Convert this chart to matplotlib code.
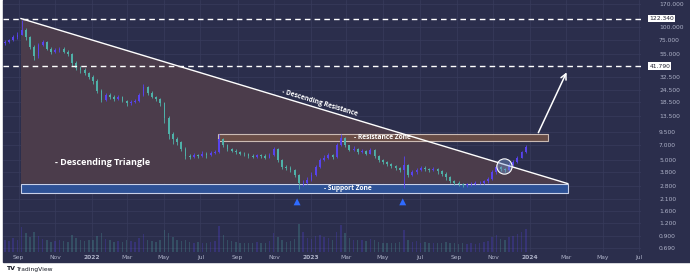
import pandas as pd
import numpy as np
import matplotlib.pyplot as plt
import matplotlib.dates as mdates
from matplotlib.patches import Rectangle, Polygon

# weekly candles
weeks = pd.date_range("2021-08-09", periods=125, freq="7D")
first_open = 70
closes = [72, 75, 80, 85, 95, 80, 65, 52, 68, 72,
          62, 58, 60, 62, 58, 55, 45, 40, 38, 36,
          33, 30, 24, 19.5, 22, 21, 20, 21, 19, 18,
          18.5, 19, 22, 26, 23, 21, 20, 18, 13, 9,
          8, 7.5, 6.5, 5.5, 5.4, 5.6, 5.5, 5.8, 5.6, 5.9,
          6.0, 8.0, 7.0, 6.4, 6.2, 6.0, 5.8, 5.7, 5.5, 5.4,
          5.6, 5.5, 5.3, 5.6, 6.5, 5.0, 4.3, 4.2, 4.0, 3.6,
          3.0, 3.0, 3.2, 3.6, 4.3, 5.0, 5.3, 5.6, 5.4, 7.0,
          8.2, 7.0, 6.3, 6.5, 6.0, 6.2, 5.8, 6.3, 5.5, 5.0,
          4.8, 4.6, 4.4, 4.2, 4.0, 4.5, 3.6, 3.8, 4.0, 4.2,
          4.1, 4.0, 4.1, 3.9, 3.7, 3.4, 3.1, 3.0, 2.9, 2.85,
          2.9, 2.95, 3.0, 3.0, 3.1, 3.3, 3.8, 4.3, 4.1, 4.0,
          4.5, 4.8, 5.3, 6.0, 6.8]
highs = [76, 78, 84, 90, 118, 98, 82, 67, 70, 76,
         74, 64, 63, 65, 64, 60, 56, 47, 42, 40,
         37, 34, 31, 25, 23, 23, 22, 22, 21.5, 19.5,
         19.5, 20, 23, 28, 26.5, 24, 21.5, 20.5, 18.5, 13.5,
         9.5, 8.4, 7.8, 6.7, 5.8, 5.9, 5.8, 6.1, 6.0, 6.2,
         6.3, 9.0, 8.3, 7.2, 6.6, 6.4, 6.2, 6.0, 5.9, 5.7,
         5.8, 5.8, 5.7, 5.9, 6.8, 6.6, 5.1, 4.5, 4.4, 4.1,
         3.7, 3.2, 3.4, 3.8, 4.5, 5.2, 5.6, 5.9, 5.8, 7.4,
         9.0, 8.4, 7.1, 6.9, 6.6, 6.5, 6.3, 6.6, 6.4, 5.6,
         5.1, 4.9, 4.7, 4.5, 4.3, 5.5, 4.6, 4.0, 4.2, 4.4,
         4.4, 4.2, 4.3, 4.2, 4.0, 3.8, 3.5, 3.2, 3.1, 3.0,
         3.0, 3.05, 3.1, 3.1, 3.2, 3.4, 4.0, 4.5, 4.4, 4.2,
         4.7, 5.0, 5.5, 6.2, 7.0]
lows = [68, 70, 73, 78, 84, 76, 62, 48, 50, 66,
        60, 55, 56, 58, 56, 53, 42, 38, 36, 34,
        31, 28, 23, 18.5, 19, 20, 19, 19.5, 18.5, 17,
        17.5, 18, 18.5, 21.5, 22, 20.5, 19, 17, 11.5, 8,
        7.2, 7, 6.1, 5.1, 5.1, 5.2, 5.2, 5.4, 5.3, 5.5,
        5.7, 5.9, 6.8, 6.2, 6.0, 5.8, 5.6, 5.5, 5.3, 5.2,
        5.3, 5.3, 5.1, 5.2, 5.5, 4.8, 4.1, 4.0, 3.8, 3.4,
        2.6, 2.8, 2.9, 3.1, 3.5, 4.2, 4.9, 5.1, 5.1, 5.3,
        6.9, 6.8, 6.1, 6.2, 5.8, 5.9, 5.6, 5.7, 5.3, 4.8,
        4.6, 4.4, 4.2, 4.0, 3.8, 2.7, 3.4, 3.5, 3.7, 3.9,
        3.9, 3.8, 3.9, 3.7, 3.5, 3.2, 3.0, 2.85, 2.8, 2.75,
        2.75, 2.8, 2.85, 2.9, 2.9, 3.0, 3.2, 3.7, 3.9, 3.8,
        3.9, 4.4, 4.7, 5.2, 5.9]
volumes = [1.6, 1.4, 1.8, 1.5, 3.2, 2.4, 1.9, 2.6, 2.0, 1.7,
           1.5, 1.3, 1.4, 1.6, 1.4, 1.3, 2.2, 1.8, 1.5, 1.4,
           1.6, 1.5, 2.1, 2.4, 1.7, 1.5, 1.3, 1.4, 1.3, 1.5,
           1.4, 1.3, 1.8, 2.3, 1.6, 1.4, 1.3, 1.5, 2.8, 2.5,
           1.9, 1.5, 1.4, 1.6, 1.3, 1.2, 1.3, 1.2, 1.1, 1.3,
           1.4, 3.4, 2.2, 1.6, 1.4, 1.3, 1.2, 1.2, 1.1, 1.1,
           1.3, 1.2, 1.1, 1.4, 2.4, 1.9, 1.6, 1.3, 1.4, 1.7,
           3.6, 2.6, 1.8, 1.7, 2.0, 2.2, 1.9, 1.8, 1.6, 2.6,
           3.5, 2.4, 1.8, 1.6, 1.5, 1.6, 1.4, 1.7, 1.5, 1.3,
           1.2, 1.2, 1.1, 1.2, 1.3, 2.8, 1.6, 1.3, 1.4, 1.2,
           1.3, 1.2, 1.1, 1.2, 1.1, 1.3, 1.2, 1.1, 1.0, 1.1,
           1.0, 1.1, 1.0, 1.2, 1.3, 1.4, 1.9, 2.2, 1.7, 1.5,
           1.9, 2.1, 2.3, 2.6, 2.9]

price_ticks = [170, 100, 75, 55, 32.5, 24.5, 18.5, 13.5, 9.5, 7.0, 5.0,
               3.8, 2.8, 2.1, 1.6, 1.2, 0.9, 0.69]
marked_levels = [122.34, 41.79]
month_ticks = pd.date_range("2021-09-01", "2024-07-01", freq="2MS")
month_labels = [d.strftime("%Y") if d.month == 1 else d.strftime("%b") for d in month_ticks]

bg = "#2b2e4c"
grid_c = "#383c5c"
txt_c = "#aeb2c8"
up_c = "#5843ee"
down_c = "#4fb0a8"

fig = plt.figure(figsize=(6.9, 2.74), dpi=100, facecolor="white")
fig.patches.append(Rectangle((3 / 690, 12 / 274), 1 - 3 / 690, 1 - 12 / 274,
                             transform=fig.transFigure, color=bg, zorder=-5))
ax = fig.add_axes([3 / 690, 22 / 274, 638 / 690, 252 / 274])
ax.set_facecolor(bg)
ax.set_yscale("log")
ax.set_ylim(0.63, 186)
ax.set_xlim(pd.Timestamp("2021-08-06"), pd.Timestamp("2024-07-04"))
for s in ax.spines.values():
    s.set_visible(False)

# grid
for d in month_ticks:
    ax.axvline(d, color=grid_c, lw=0.5, zorder=0.5)
for p in price_ticks:
    ax.axhline(p, color=grid_c, lw=0.5, zorder=0.5)

# volume on a twin axis
vax = ax.twinx()
vax.set_ylim(0, max(volumes) * 9)
vax.axis("off")
opens = [first_open] + closes[:-1]
cols = [up_c if c >= o else down_c for o, c in zip(opens, closes)]
vax.bar(weeks, volumes, width=2.5, color=cols, alpha=0.25, zorder=1)

# triangle area
t0 = mdates.date2num(pd.Timestamp("2021-09-05"))
t1 = mdates.date2num(pd.Timestamp("2024-03-04"))
ax.add_patch(Polygon([(t0, 122.34), (t1, 2.95), (t0, 2.95)], closed=True,
                     facecolor="#4b3c4b", edgecolor="none", zorder=1))
ax.plot([t0, t1], [122.34, 2.95], color="white", lw=1.0, zorder=4)

# zones
r0 = mdates.date2num(pd.Timestamp("2022-07-30"))
r1 = mdates.date2num(pd.Timestamp("2024-01-31"))
ax.add_patch(Rectangle((r0, 7.75), r1 - r0, 9.1 - 7.75, facecolor="#6e5046",
                       edgecolor="#d8c8c0", lw=0.8, alpha=0.9, zorder=2))
ax.add_patch(Rectangle((t0, 2.4), t1 - t0, 2.95 - 2.4, facecolor="#2e5296",
                       edgecolor="#c8d0e8", lw=0.8, zorder=2))

# dashed levels
for lv in marked_levels:
    ax.axhline(lv, color="white", lw=1.0, ls=(0, (4, 3)), zorder=4)
    ax.text(1.013, lv, f"{lv:.3f}", transform=ax.get_yaxis_transform(),
            fontsize=4.3, color="#202030", va="center", ha="left",
            bbox=dict(boxstyle="square,pad=0.2", fc="white", ec="none"))

# candles
ax.vlines(weeks, lows, highs, colors=cols, lw=0.6, zorder=3)
ax.bar(weeks, np.abs(np.array(closes) - np.array(opens)),
       bottom=np.minimum(opens, closes), width=3.0, color=cols, zorder=3)

# annotations
ax.annotate("", xy=(pd.Timestamp("2024-03-04"), 38.5),
            xytext=(pd.Timestamp("2024-01-13"), 8.8),
            arrowprops=dict(arrowstyle="->", color="white", lw=1.1), zorder=5)
ax.plot(pd.Timestamp("2023-11-19"), 4.4, "o", ms=11, mfc="#7a9ad866",
        mec="white", mew=0.8, zorder=5)
for d in ["2022-12-09", "2023-06-03"]:
    ax.annotate("", xy=(pd.Timestamp(d), 2.25), xytext=(pd.Timestamp(d), 1.9),
                arrowprops=dict(arrowstyle="simple,head_width=0.5,tail_width=0.3",
                                color="#2f6bff", lw=0), zorder=5)

ax.text(pd.Timestamp("2021-10-31"), 4.7, "- Descending Triangle", color="white",
        fontsize=6.5, fontweight="bold", family="Open Sans", va="center", zorder=5)
ax.text(pd.Timestamp("2023-01-16"), 18.2, "- Descending Resistance", color="white",
        fontsize=4.8, fontweight="bold", family="Open Sans", rotation=-16.8,
        rotation_mode="anchor", ha="center", va="center", zorder=5)
ax.text(pd.Timestamp("2023-05-01"), 8.4, "- Resistance Zone", color="white",
        fontsize=4.8, fontweight="bold", family="Open Sans", ha="center",
        va="center", zorder=5)
ax.text(pd.Timestamp("2023-03-04"), 2.66, "- Support Zone", color="white",
        fontsize=4.8, fontweight="bold", family="Open Sans", ha="center",
        va="center", zorder=5)

# axes labels
ax.yaxis.tick_right()
ax.set_yticks(price_ticks)
ax.set_yticklabels([f"{p:.3f}" for p in price_ticks])
ax.yaxis.set_minor_locator(plt.NullLocator())
ax.set_xticks(month_ticks)
ax.set_xticklabels(month_labels)
ax.tick_params(axis="y", length=0, pad=13, labelsize=4.3, labelcolor=txt_c)
ax.tick_params(axis="x", length=0, pad=2, labelsize=4.3, labelcolor=txt_c)
for lab in ax.get_xticklabels():
    if lab.get_text().isdigit():
        lab.set_fontweight("bold")

fig.text(6 / 690, 1 - 269 / 274, "TV", fontsize=4.5, fontweight="bold",
         color="#131722", va="center")
fig.text(16 / 690, 1 - 269 / 274, "TradingView", fontsize=4.3,
         color="#131722", va="center")

plt.savefig("out.png", dpi=100, facecolor="white")
